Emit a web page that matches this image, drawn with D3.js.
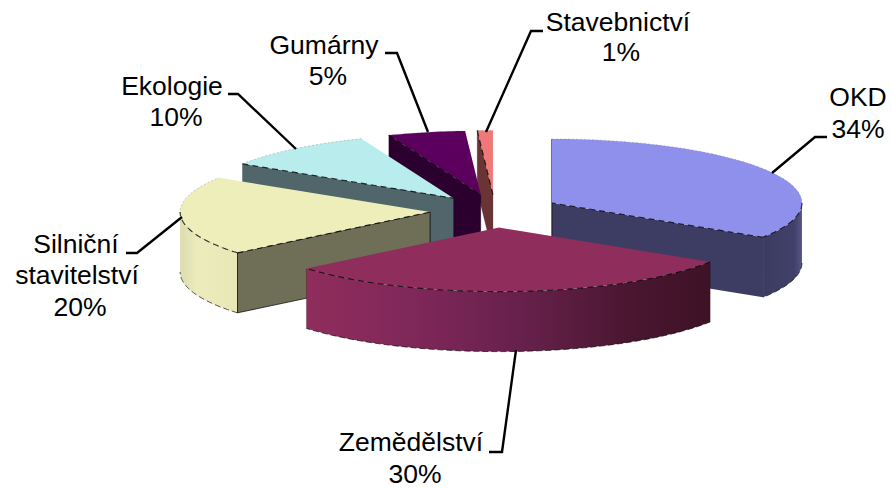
<!DOCTYPE html>
<html><head><meta charset="utf-8">
<style>html,body{margin:0;padding:0;background:#fff}svg{display:block}text{font-family:"Liberation Sans",Arial,sans-serif;font-size:26.5px;fill:#000;text-anchor:middle}</style>
<script src="https://cdn.jsdelivr.net/npm/d3@7/dist/d3.min.js"></script>
</head><body><svg id="c" width="891" height="488"></svg>
<script>
// data
const categories = ["OKD","Zemědělství","Silniční stavitelství","Ekologie","Gumárny","Stavebnictví"];
const values = [34,30,20,10,5,1];
// styles
const topColors = ["#8f8fec","#8f2d5c","#eeeebb","#b9eded","#5c005e","#f07878"];
const cutColors = ["#3d3d63","#5a1a3a","#6f6f58","#50666a","#2c002e","#6b3434"];
const edgeOpacity = [0,0.25,0.8,0.25,0.25,0.25];
const rimStops = [
  [[0,"#3c3c62"],[0.8,"#40406a"],[1,"#55558a"]],
  [[0,"#8f2d5c"],[0.25,"#80285a"],[0.55,"#65204a"],[0.8,"#4a1630"],[1,"#3f1226"]],
  [[0,"#dcdcb0"],[0.3,"#ecebbb"],[1,"#e9e7b6"]],
  [[0,"#50666a"],[1,"#50666a"]],
  [[0,"#2c002e"],[1,"#2c002e"]],
  [[0,"#6b3434"],[1,"#6b3434"]]
];
const drawOrder = [5,4,3,0,2,1];
// layout
const cx0=495, cy0=211, rx=250, ry=64, depth=60, explode=0.26;
const labelLines = [
  [["OKD",858,106],["34%",858,138]],
  [["Zemědělství",411,451],["30%",415,483]],
  [["Silniční",76,253],["stavitelství",77,284],["20%",80,316]],
  [["Ekologie",172,95],["10%",176,126]],
  [["Gumárny",324,54],["5%",328,85]],
  [["Stavebnictví",618,31],["1%",621,61]]
];
const leaders = [
  [[772,173],[815,137],[827,137]],
  [[516,350],[502,452],[489,452]],
  [[182,217],[137,253],[126,253]],
  [[296,149],[238,94],[228,94]],
  [[428,132],[397,53],[385,53]],
  [[486,132],[531,31],[543,31]]
];

const svg = d3.select("#c");
const defs = svg.append("defs");
const arcs = d3.pie().sort(null).value(d=>d)(values);
const line = d3.line();
const PI = Math.PI;
const sample = (a,b)=>{const n=Math.max(2,Math.ceil(Math.abs(b-a)*60));return d3.range(n+1).map(i=>a+(b-a)*i/n);};

function draw(i){
  const d=arcs[i], a0=d.startAngle, a1=d.endAngle, mid=(a0+a1)/2;
  const cx=cx0+explode*rx*Math.sin(mid), cy=cy0-explode*ry*Math.cos(mid);
  const P=(t,z=0)=>[cx+rx*Math.sin(t), cy-ry*Math.cos(t)+z];
  const g=svg.append("g");
  const stroked=s=>s.attr("stroke","#000").attr("stroke-width",0.9).attr("stroke-opacity",edgeOpacity[i]).attr("stroke-linejoin","round");

  // cut faces visible from the front
  [a0,a1].forEach(t=>{
    const sinT=Math.sin(t);
    const visible = (t===a0 && sinT<-1e-6) || (t===a1 && sinT>1e-6);
    if(!visible) return;
    stroked(g.append("path").attr("d",line([[cx,cy],P(t),P(t,depth),[cx,cy+depth]])+"Z").attr("fill",cutColors[i]));
  });
  // OKD edge at 12 o'clock shows only as a vertical line
  if(Math.abs(Math.sin(a0))<1e-6){
    g.append("path").attr("d",line([P(a0),[cx,cy+depth]])).attr("stroke","#222").attr("stroke-width",1.2).attr("fill","none");
  }
  // outer rim, front half only
  const r0=Math.max(a0,PI/2), r1=Math.min(a1,3*PI/2);
  if(r1>r0){
    const id="rim"+i, x0=Math.min(P(r0)[0],P(r1)[0]), x1=Math.max(P(r0)[0],P(r1)[0]);
    const lg=defs.append("linearGradient").attr("id",id).attr("gradientUnits","userSpaceOnUse")
      .attr("x1",x0).attr("x2",x1).attr("y1",0).attr("y2",0);
    rimStops[i].forEach(s=>lg.append("stop").attr("offset",s[0]).attr("stop-color",s[1]));
    const ts=sample(r0,r1);
    const pts=ts.map(t=>P(t)).concat(ts.slice().reverse().map(t=>P(t,depth)));
    g.append("path").attr("d",line(pts)+"Z").attr("fill",`url(#${id})`);
    g.append("path").attr("d",line(ts.map(t=>P(t,depth)))).attr("fill","none")
      .attr("stroke","#000").attr("stroke-width",1).attr("stroke-opacity",0.65).attr("stroke-dasharray","6 3");
    [r0,r1].forEach(t=>{ if(Math.abs(t-PI/2)>1e-6&&Math.abs(t-3*PI/2)>1e-6)
      stroked(g.append("path").attr("d",line([P(t),P(t,depth)])).attr("fill","none"));});
  }
  // top face
  const rim=sample(a0,a1).map(t=>P(t));
  g.append("path").attr("d",line([[cx,cy],...rim])+"Z").attr("fill",topColors[i]);
  // soft back edge
  g.append("path").attr("d",line(rim)).attr("fill","none").attr("stroke","#777").attr("stroke-width",0.6).attr("stroke-opacity",0.6).attr("stroke-dasharray","2 2");
  // dark dashed front edges of the top face
  const dash=(pts)=>g.append("path").attr("d",line(pts)).attr("fill","none")
    .attr("stroke","#000").attr("stroke-width",1.1).attr("stroke-opacity",0.8).attr("stroke-dasharray","6 4");
  if(Math.sin(a0)<-1e-6) dash([P(a0),[cx,cy]]);
  if(Math.sin(a1)>1e-6) dash([P(a1),[cx,cy]]);
  if(r1>r0) dash(sample(r0,r1).map(t=>P(t)));
}
drawOrder.forEach(draw);

// leader lines
svg.append("g").selectAll("path").data(leaders).join("path")
  .attr("d",d=>line(d)).attr("fill","none").attr("stroke","#000").attr("stroke-width",2.4).attr("stroke-linejoin","miter");

// labels
svg.append("g").selectAll("text").data(labelLines.flat()).join("text")
  .attr("x",d=>d[1]).attr("y",d=>d[2]).text(d=>d[0]);
</script></body></html>
